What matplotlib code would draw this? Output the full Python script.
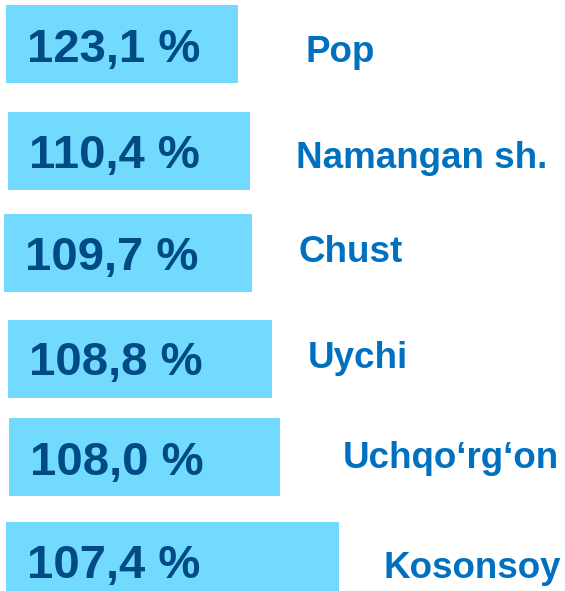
import matplotlib.pyplot as plt

# data
districts = ["Pop", "Namangan sh.", "Chust", "Uychi", "Uchqo\u2018rg\u2018on", "Kosonsoy"]
growth = [123.1, 110.4, 109.7, 108.8, 108.0, 107.4]
bar_length = [232, 242, 248, 264, 271, 333]

# layout (pixel-like units, y grows downwards)
bar_left = [6, 8, 4, 8, 9, 6]
bar_center = [44, 151, 253, 359, 457, 561]
name_x = [306, 296, 298, 308, 343, 383]
name_y = [53, 158, 252, 358, 459, 568]
value_dy = [6, 5, 5, 4, 6, 5]

plt.rcParams['font.family'] = ['Liberation Sans', 'DejaVu Sans']

fig = plt.figure(figsize=(5.65, 5.91), dpi=100)
ax = fig.add_axes([0, 0, 1, 1])
ax.set_xlim(0, 565)
ax.set_ylim(591, 0)
ax.axis("off")

ax.barh(bar_center, bar_length, height=78, left=bar_left, color="#72DAFD")

for i, v in enumerate(growth):
    label = f"{v:.1f}".replace(".", ",") + " %"
    ax.text(bar_left[i] + 21, bar_center[i] + value_dy[i], label, fontsize=34,
            fontweight="bold", color="#004B85", va="center", ha="left")
    ax.text(name_x[i], name_y[i], districts[i], fontsize=26.5, fontweight="bold",
            color="#0070C0", va="center", ha="left")

fig.savefig("out.png", dpi=100)
